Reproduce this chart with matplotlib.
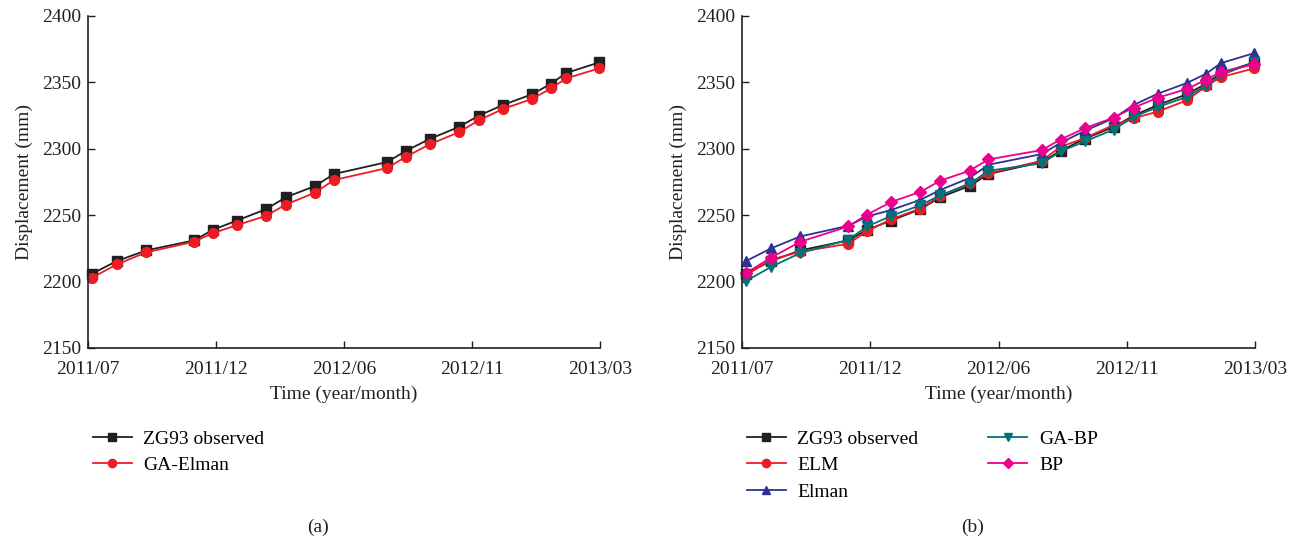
"""Recreate ZG93 displacement prediction comparison: (a) GA-Elman, (b) other models."""
import matplotlib
matplotlib.use('Agg')
import matplotlib.pyplot as plt

plt.rcParams['font.family'] = ['Liberation Serif', 'DejaVu Serif']

# time axis: months after 2011/07
months = [0.16, 1.13, 2.27, 4.14, 4.88, 5.82, 6.95, 7.73, 8.87, 9.61,
          11.68, 12.42, 13.36, 14.49, 15.27, 16.21, 17.34, 18.09, 18.67, 19.96]
tick_pos = [0, 5, 10, 15, 20]
tick_labels = ['2011/07', '2011/12', '2012/06', '2012/11', '2013/03']

observed = [2206, 2215.5, 2223.5, 2231, 2239, 2246, 2254.5, 2263.5, 2272, 2281,
            2290, 2298.5, 2307.5, 2316.5, 2325, 2333, 2341, 2349, 2357, 2365]
ga_elman = [2203, 2213, 2222, 2230, 2236.5, 2242.5, 2249.5, 2258, 2267, 2276.5,
            2285.5, 2294, 2303.5, 2312.5, 2321.5, 2330, 2337.5, 2345.5, 2353, 2360.5]
elm = [2205, 2216.5, 2222.5, 2228.5, 2238, 2247, 2255, 2264.5, 2274, 2281.5,
       2291, 2301.5, 2308, 2318, 2323, 2328, 2336.5, 2347, 2354, 2360.5]
elman = [2215.5, 2225, 2234, 2242, 2249, 2254, 2261.5, 2269, 2278, 2288,
         2296, 2304.5, 2313.5, 2323, 2333, 2341.5, 2349.5, 2356.5, 2364.5, 2372]
ga_bp = [2200.5, 2211, 2221.5, 2231.5, 2241.5, 2249.5, 2257.5, 2265, 2273.5, 2283.5,
         2289, 2298, 2305.5, 2314.5, 2324, 2331.5, 2339, 2347.5, 2355.5, 2365]
bp = [2206.5, 2218, 2230, 2241.5, 2250.5, 2260, 2267.5, 2276, 2283.5, 2292,
      2299, 2307, 2315.5, 2323.5, 2331, 2338.5, 2345, 2352, 2358, 2363.5]

C_OBS = '#231f20'
C_RED = '#ed1c24'
C_ELMAN = '#2e3192'
C_GABP = '#00727a'
C_BP = '#ec008c'
AX_COLOR = '#231f20'
FS = 14

fig = plt.figure(figsize=(12.99, 5.48), dpi=100)
ax1 = fig.add_axes([88 / 1299, 200 / 548, 512 / 1299, 332 / 548])
ax2 = fig.add_axes([742 / 1299, 200 / 548, 513 / 1299, 332 / 548])


def style(ax):
    ax.set_xlim(0, 20)
    ax.set_ylim(2150, 2400)
    ax.set_xticks(tick_pos)
    ax.set_xticklabels(tick_labels)
    ax.set_yticks(range(2150, 2401, 50))
    ax.tick_params(direction='in', length=5, width=1, colors=AX_COLOR, labelsize=FS)
    ax.tick_params(axis='x', pad=9)
    ax.tick_params(axis='y', pad=5)
    for s in ['top', 'right']:
        ax.spines[s].set_visible(False)
    for s in ['left', 'bottom']:
        ax.spines[s].set_color(AX_COLOR)
        ax.spines[s].set_linewidth(1.2)
    ax.set_xlabel('Time (year/month)', fontsize=FS, color=AX_COLOR, labelpad=6)
    ax.set_ylabel('Displacement (mm)', fontsize=FS, color=AX_COLOR, labelpad=6)


lw = 1.3
# ----------------------------------------------------------------------------
# (a) observed vs GA-Elman
# ----------------------------------------------------------------------------
ax1.plot(months, observed, 's-', color=C_OBS, lw=lw, ms=6.5, label='ZG93 observed', clip_on=False)
ax1.plot(months, ga_elman, 'o-', color=C_RED, lw=lw, ms=7, label='GA-Elman', clip_on=False)
style(ax1)
ax1.legend(loc='upper left', bbox_to_anchor=(-0.025, -0.195), frameon=False, fontsize=FS,
           handlelength=2.0, handletextpad=0.6, labelspacing=0.45, markerscale=0.85)
ax1.text(0.45, -0.54, '(a)', transform=ax1.transAxes, fontsize=FS, color=AX_COLOR,
         ha='center', va='center')

# ----------------------------------------------------------------------------
# (b) observed vs ELM / Elman / GA-BP / BP
# ----------------------------------------------------------------------------
ax2.plot(months, observed, 's-', color=C_OBS, lw=lw, ms=6.5, label='ZG93 observed', clip_on=False)
ax2.plot(months, elm, 'o-', color=C_RED, lw=lw, ms=7, label='ELM', clip_on=False)
ax2.plot(months, elman, '^-', color=C_ELMAN, lw=lw, ms=7.5, label='Elman', clip_on=False)
ax2.plot(months, ga_bp, 'v-', color=C_GABP, lw=lw, ms=7.5, label='GA-BP', clip_on=False)
ax2.plot(months, bp, 'D-', color=C_BP, lw=lw, ms=6.5, label='BP', clip_on=False)
style(ax2)
ax2.legend(loc='upper left', bbox_to_anchor=(-0.025, -0.195), frameon=False, fontsize=FS, ncol=2,
           handlelength=2.0, handletextpad=0.6, labelspacing=0.45, columnspacing=3.6,
           markerscale=0.85)
ax2.text(0.45, -0.54, '(b)', transform=ax2.transAxes, fontsize=FS, color=AX_COLOR,
         ha='center', va='center')

plt.savefig('out.png', dpi=100)
plt.close()
print('Saved out.png')
